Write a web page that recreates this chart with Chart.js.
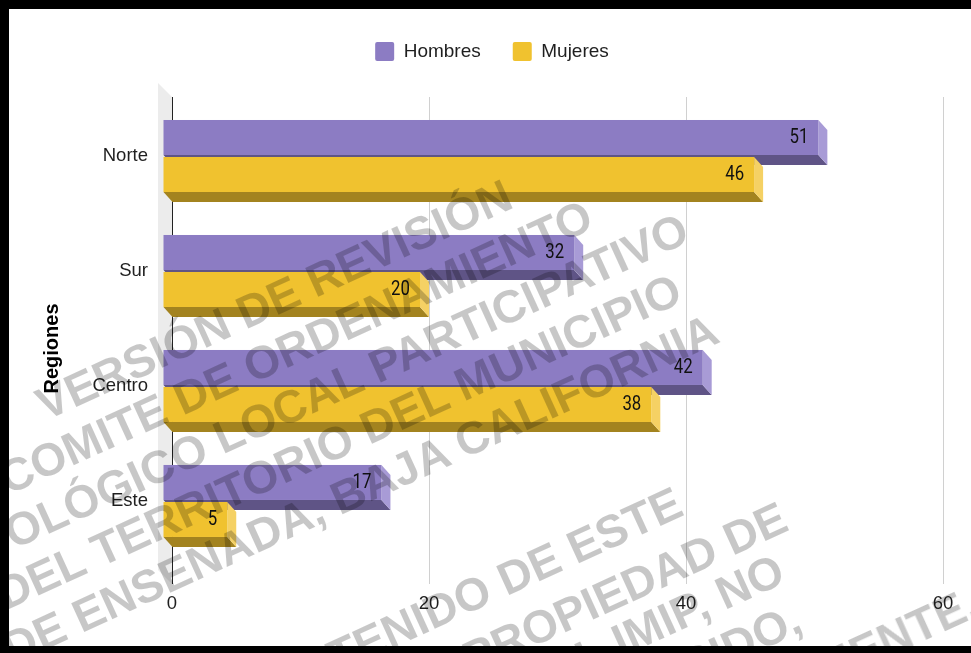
<!DOCTYPE html>
<html>
<head>
<meta charset="utf-8">
<title>Regiones</title>
<script src="https://cdn.jsdelivr.net/npm/chart.js@4.4.1/dist/chart.umd.min.js"></script>
<style>
  html, body { margin: 0; padding: 0; background: #000; width: 971px; height: 653px; overflow: hidden; }
  #frame { position: absolute; left: 9px; top: 9px; width: 962px; height: 637px; background: #fff; overflow: hidden; }
  #chart { position: absolute; left: 0; top: 0; }
  .wm, .wm-line { position: absolute; white-space: nowrap; pointer-events: none;
        font: bold 46px "Liberation Sans", Arial, sans-serif; line-height: 52px;
        color: rgba(0, 0, 0, 0.22); }
  .wm { text-align: center; transform: translate(-50%, -50%) rotate(-24.5deg); }
  .wm-line { transform-origin: 100% 50%; transform: translate(-100%, -50%) rotate(-24.5deg); }
</style>
</head>
<body>
<div id="frame">
  <canvas id="chart" width="962" height="637"></canvas>
  <div class="wm" style="left:308px; top:385px;">
    VERSIÓN DE REVISIÓN<br>
    COMITE DE ORDENAMIENTO<br>
    ECOLÓGICO LOCAL PARTICIPATIVO<br>
    DEL TERRITORIO DEL MUNICIPIO<br>
    DE ENSENADA, BAJA CALIFORNIA
  </div>
  <div class="wm-line" style="left:670px; top:491px;">EL CONTENIDO DE ESTE</div>
  <div class="wm-line" style="left:775px; top:506px;">DOCUMENTO ES PROPIEDAD DE</div>
  <div class="wm-line" style="left:772px; top:558px;">DEL IMIP, NO</div>
  <div class="wm-line" style="left:789px; top:607px;">REPRODUCIDO,</div>
  <div class="wm-line" style="left:966px; top:591px;">TOTAL O PARCIALMENTE,</div>
</div>
<script>
// Regions by sex, 3D-looking horizontal bars
const categories = ['Norte', 'Sur', 'Centro', 'Este'];
const hombres = [51, 32, 42, 17];
const mujeres = [46, 20, 38, 5];
const seriesNames = ['Hombres', 'Mujeres'];
const xTicks = [0, 20, 40, 60];
const yTitle = 'Regiones';

const DEPTH_X = 9;
const DEPTH_Y = 10;
const TEXT = '#1f1f1f';
const SANS = '"Liberation Sans", Arial, sans-serif';

const faces = [
  { front: '#8c7cc3', bottom: '#5f5486', side: '#a89bd6' },
  { front: '#f0c22f', bottom: '#a3831f', side: '#f5d164' }
];

function toPoints(values) {
  return values.map((v, i) => ({ x: v, y: i }));
}

function fillPoly(ctx, color, pts) {
  ctx.fillStyle = color;
  ctx.beginPath();
  ctx.moveTo(pts[0][0], pts[0][1]);
  for (let i = 1; i < pts.length; i++) ctx.lineTo(pts[i][0], pts[i][1]);
  ctx.closePath();
  ctx.fill();
}

const bars3d = {
  id: 'bars3d',
  beforeInit(chart) {
    // leave room between the legend and the plot
    const fit = chart.legend.fit;
    chart.legend.fit = function () {
      fit.call(this);
      this.height += 26;
    };
  },
  beforeDraw(chart) {
    const { ctx, chartArea: a } = chart;
    ctx.save();
    // grey side wall behind the zero line
    fillPoly(ctx, '#ececec', [
      [a.left - 14, a.top - 14], [a.left, a.top],
      [a.left, a.bottom], [a.left - 14, a.bottom - 14]
    ]);
    ctx.restore();
  },
  beforeDatasetDraw() {
    return false; // drawn below as 3D blocks
  },
  afterDatasetsDraw(chart) {
    const ctx = chart.ctx;
    ctx.save();
    chart.data.datasets.forEach((ds, di) => {
      const c = faces[di];
      chart.getDatasetMeta(di).data.forEach((bar, i) => {
        const { x, y, base, height } = bar.getProps(['x', 'y', 'base', 'height'], true);
        const top = y - height / 2;
        const bot = y + height / 2;
        const l = base - DEPTH_X;
        const r = x - DEPTH_X;
        fillPoly(ctx, c.bottom, [[l, bot], [r, bot], [x, bot + DEPTH_Y], [base, bot + DEPTH_Y]]);
        fillPoly(ctx, c.side, [[r, top], [x, top + DEPTH_Y], [x, bot + DEPTH_Y], [r, bot]]);
        ctx.fillStyle = c.front;
        ctx.fillRect(l, top, r - l, height);

        // value label, slightly condensed
        ctx.save();
        ctx.translate(r - 10, y + 1);
        ctx.scale(0.84, 1);
        ctx.font = '20px Roboto, sans-serif';
        ctx.fillStyle = '#111';
        ctx.textAlign = 'right';
        ctx.textBaseline = 'middle';
        ctx.fillText(String(ds.data[i].x), 0, 0);
        ctx.restore();
      });
    });
    ctx.restore();
  },
  afterDraw(chart) {
    // axis title sits a bit below the middle of the plot in the original
    const { ctx, chartArea: a } = chart;
    ctx.save();
    ctx.translate(a.left - 120, (a.top + a.bottom) / 2 + 8);
    ctx.rotate(-Math.PI / 2);
    ctx.font = 'bold 20px ' + SANS;
    ctx.fillStyle = '#000';
    ctx.textAlign = 'center';
    ctx.textBaseline = 'middle';
    ctx.fillText(yTitle, 0, 0);
    ctx.restore();
  }
};

new Chart(document.getElementById('chart'), {
  type: 'bar',
  data: {
    datasets: [
      {
        label: seriesNames[0],
        data: toPoints(hombres),
        backgroundColor: faces[0].front,
        borderWidth: 0,
        borderRadius: 2,
      },
      {
        label: seriesNames[1],
        data: toPoints(mujeres),
        backgroundColor: faces[1].front,
        borderWidth: 0,
        borderRadius: 2,
      },
    ],
  },
  options: {
    indexAxis: 'y',
    responsive: false,
    animation: false,
    categoryPercentage: 0.6435,
    barPercentage: 0.946,
    layout: {
      padding: { top: 1, right: 28, bottom: 22, left: 32 },
    },
    plugins: {
      legend: {
        position: 'top',
        labels: {
          color: TEXT,
          boxWidth: 19,
          boxHeight: 19,
          padding: 32,
          useBorderRadius: true,
          borderRadius: 2,
          font: { family: SANS, size: 19 },
        },
      },
      tooltip: { enabled: false },
    },
    scales: {
      x: {
        type: 'linear',
        min: xTicks[0],
        max: xTicks[xTicks.length - 1],
        afterBuildTicks(axis) {
          axis.ticks = xTicks.map((v) => ({ value: v }));
        },
        afterFit(scale) {
          scale.height = 40;
        },
        ticks: {
          color: TEXT,
          padding: 9,
          font: { family: SANS, size: 18.5 },
        },
        grid: {
          drawTicks: false,
          color: (c) => (c.tick && c.tick.value === 0 ? '#222' : '#d0d0d0'),
          lineWidth: 1,
        },
        border: { display: false },
      },
      y: {
        type: 'linear',
        reverse: true,
        offset: false,
        min: -0.513,
        max: 3.722,
        afterBuildTicks(axis) {
          axis.ticks = categories.map((_, i) => ({ value: i }));
        },
        afterFit(scale) {
          scale.width = 131;
        },
        ticks: {
          color: TEXT,
          padding: 24,
          font: { family: SANS, size: 18.5 },
          callback: (v) => categories[v],
        },
        grid: { display: false, drawTicks: false },
        border: { display: false },
      },
    },
  },
  plugins: [bars3d],
});
</script>
</body>
</html>
